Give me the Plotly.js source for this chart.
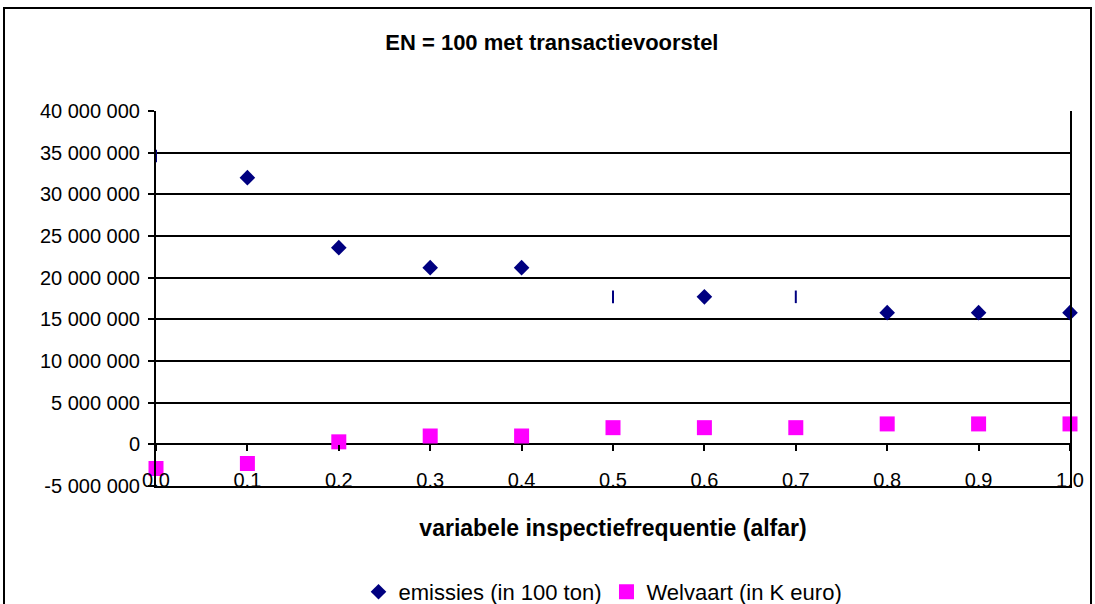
<!DOCTYPE html>
<html>
<head>
<meta charset="utf-8">
<script src="https://cdn.plot.ly/plotly-3.0.1.min.js"></script>
<style>
  html, body { margin: 0; padding: 0; background: #fff; }
  #chart { width: 1095px; height: 604px; }
</style>
</head>
<body>
<div id="chart"></div>
<script>
// ---- data ----
const alfa = [0.0, 0.1, 0.2, 0.3, 0.4, 0.5, 0.6, 0.7, 0.8, 0.9, 1.0];
const emissies = [34600000, 32000000, 23600000, 21200000, 21200000, 17700000, 17700000, 17700000, 15800000, 15800000, 15800000];
const welvaart = [-2900000, -2300000, 300000, 1000000, 1000000, 2000000, 2000000, 2000000, 2450000, 2450000, 2450000];
const xTickVals = [0.0, 0.1, 0.2, 0.3, 0.4, 0.5, 0.6, 0.7, 0.8, 0.9, 1.0];
const xTickText = ["0.0", "0.1", "0.2", "0.3", "0.4", "0.5", "0.6", "0.7", "0.8", "0.9", "1.0"];
const yTickVals = [-5000000, 0, 5000000, 10000000, 15000000, 20000000, 25000000, 30000000, 35000000, 40000000];
const yTickText = ["-5 000 000", "0", "5 000 000", "10 000 000", "15 000 000", "20 000 000", "25 000 000", "30 000 000", "35 000 000", "40 000 000"];
const seriesNames = ["emissies (in 100 ton)", "Welvaart (in K euro)"];
const chartTitle = "EN = 100 met transactievoorstel";
const xTitle = "variabele inspectiefrequentie (alfar)";

// ---- styling: in the reference some emission markers render as thin vertical strokes ----
const strokeMarkerIdx = [0, 5, 7];
const pick = (arr, keep) => arr.filter((_, i) => keep(i));
const isStroke = i => strokeMarkerIdx.includes(i);

const FONT = "Arial, 'Liberation Sans', sans-serif";
const NAVY = "#000080";
const MAGENTA = "#FF00FF";

const traces = [
  {
    type: "scatter", mode: "markers", name: seriesNames[0],
    x: pick(alfa, i => !isStroke(i)), y: pick(emissies, i => !isStroke(i)),
    marker: { symbol: "diamond", color: NAVY, size: 12, line: { width: 0 } },
    cliponaxis: false
  },
  {
    type: "scatter", mode: "markers", name: seriesNames[0], showlegend: false,
    x: pick(alfa, isStroke), y: pick(emissies, isStroke),
    marker: { symbol: "line-ns", color: NAVY, size: 9, line: { width: 2, color: NAVY } },
    cliponaxis: false
  },
  {
    type: "scatter", mode: "markers", name: seriesNames[1],
    x: alfa, y: welvaart,
    marker: { symbol: "square", color: MAGENTA, size: 15, line: { width: 0 } },
    cliponaxis: false
  },
  {
    // invisible helper to carry the tick-mark axis at y = 0
    type: "scatter", mode: "markers", x: [0, 1], y: [0, 0], xaxis: "x2",
    marker: { opacity: 0 }, showlegend: false, hoverinfo: "skip"
  }
];

const L = 156, R = 25, T = 111, B = 118;
const plotW = 1095 - L - R, plotH = 604 - T - B;
const px2x = p => (p - L) / plotW;
const py2y = p => (604 - B - p) / plotH;

const layout = {
  width: 1095, height: 604,
  margin: { l: L, r: R, t: T, b: B, pad: 0, autoexpand: false },
  paper_bgcolor: "#fff", plot_bgcolor: "#fff",
  font: { family: FONT, size: 20, color: "#000" },
  title: {
    text: "<b>" + chartTitle + "</b>",
    font: { family: FONT, size: 22, color: "#000" },
    xref: "container", x: 0.504, xanchor: "center",
    yref: "container", y: 1 - 42 / 604, yanchor: "middle"
  },
  showlegend: true,
  legend: {
    orientation: "h", xref: "container", x: 603 / 1095, xanchor: "center",
    yref: "container", y: 1 - 592 / 604, yanchor: "middle",
    font: { family: FONT, size: 22, color: "#000" },
    bgcolor: "rgba(0,0,0,0)", itemwidth: 30, tracegroupgap: 0
  },
  xaxis: {
    range: [0, 1], fixedrange: true,
    tickmode: "array", tickvals: xTickVals, ticktext: xTickText,
    ticks: "", ticklabelstandoff: -25, ticklabeloverflow: "allow",
    tickfont: { family: FONT, size: 20, color: "#000" },
    showgrid: false, zeroline: false,
    showline: true, linecolor: "#000", linewidth: 2, mirror: false,
    title: { text: "<b>" + xTitle + "</b>", font: { family: FONT, size: 23, color: "#000" }, standoff: 30 },
    automargin: false
  },
  xaxis2: {
    range: [0, 1], overlaying: "x", anchor: "free", position: 5 / 45,
    tickmode: "array", tickvals: xTickVals,
    ticks: "outside", ticklen: 6, tickwidth: 2, tickcolor: "#000",
    showticklabels: false, showgrid: false, zeroline: false, showline: false,
    fixedrange: true
  },
  yaxis: {
    range: [-5000000, 40000000], fixedrange: true,
    tickmode: "array", tickvals: yTickVals, ticktext: yTickText,
    ticks: "outside", ticklen: 6, tickwidth: 2, tickcolor: "#000",
    ticklabelstandoff: 4, ticklabeloverflow: "allow",
    tickfont: { family: FONT, size: 20, color: "#000" },
    showgrid: true, gridcolor: "#000", gridwidth: 2,
    zeroline: false,
    showline: true, linecolor: "#000", linewidth: 2, mirror: true,
    automargin: false
  },
  shapes: [
    {
      type: "rect", xref: "paper", yref: "paper",
      x0: px2x(4), x1: px2x(1091), y0: py2y(640), y1: py2y(8),
      line: { color: "#000", width: 2 }, fillcolor: "rgba(0,0,0,0)", layer: "below"
    }
  ]
};

Plotly.newPlot("chart", traces, layout, { displayModeBar: false, staticPlot: true });
</script>
</body>
</html>
